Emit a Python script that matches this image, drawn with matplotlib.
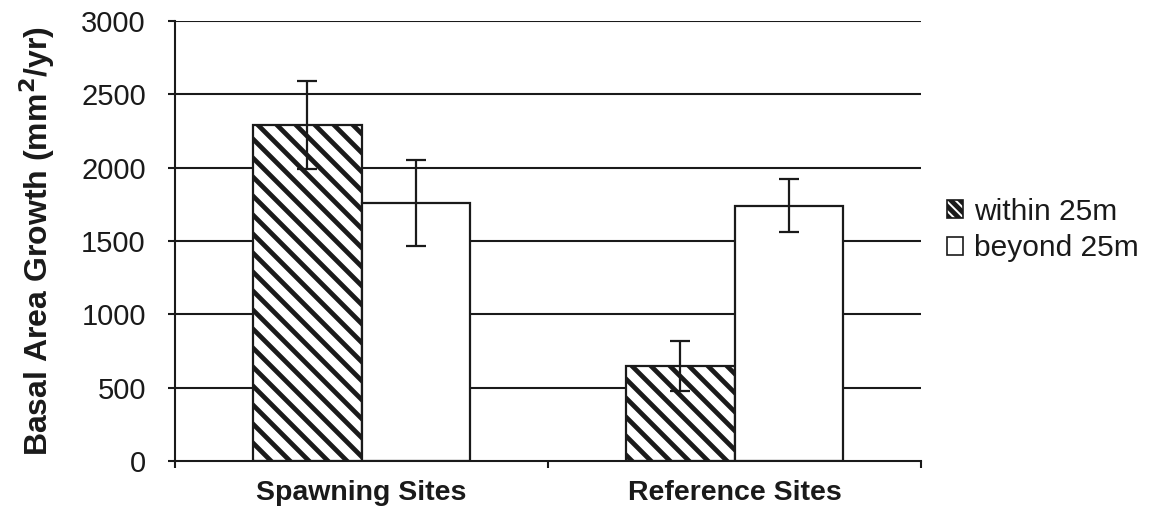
import matplotlib
matplotlib.use("Agg")
import matplotlib.pyplot as plt
import numpy as np
from matplotlib.patches import Patch

categories = ["Spawning Sites", "Reference Sites"]
series_names = ["within 25m", "beyond 25m"]
within_vals = [2290, 645]
within_err = [300, 170]
beyond_vals = [1760, 1740]
beyond_err = [295, 182]
yticks = [0, 500, 1000, 1500, 2000, 2500, 3000]

DPI = 114
S = 100 / DPI  # keep sizes as designed for 100 dpi

plt.rcParams['font.family'] = ['Liberation Sans', 'DejaVu Sans']
plt.rcParams['hatch.linewidth'] = 3.0
plt.rcParams['hatch.color'] = '#1a1a1a'

fig = plt.figure(figsize=(1166/DPI, 525/DPI), dpi=DPI)
ax = fig.add_axes([175/1166, 1-461/525, (921-175)/1166, (461-21)/525])

x = np.arange(len(categories))
w = 0.29
ax.set_axisbelow(True)
for yv in yticks[1:]:
    ax.axhline(yv, color='#1a1a1a', lw=1.5*S, zorder=0)

ax.bar(x - w/2, within_vals, w, color='white', edgecolor='#1a1a1a', lw=1.6*S,
       hatch='\\\\', zorder=2)
ax.bar(x + w/2, beyond_vals, w, color='white', edgecolor='#1a1a1a', lw=1.6*S, zorder=2)
ax.errorbar(x - w/2, within_vals, yerr=within_err, fmt='none', ecolor='#1a1a1a',
            elinewidth=1.6*S, capsize=7.5*S, capthick=1.6*S, zorder=3)
ax.errorbar(x + w/2, beyond_vals, yerr=beyond_err, fmt='none', ecolor='#1a1a1a',
            elinewidth=1.6*S, capsize=7.5*S, capthick=1.6*S, zorder=3)

ax.set_xlim(-0.5, 1.5)
ax.set_ylim(0, 3000)
ax.set_yticks(yticks)
ax.tick_params(axis='y', labelsize=21*S, length=5*S, width=1.5*S, color='#1a1a1a',
               labelcolor='#1a1a1a', pad=16*S, direction='out')
ax.set_xticks([-0.5, 0.5, 1.5])
ax.set_xticklabels([])
ax.set_xticks(x, minor=True)
ax.set_xticklabels(categories, minor=True, fontsize=20.5*S, fontweight='bold',
                   color='#1a1a1a')
ax.tick_params(axis='x', which='major', length=5*S, width=1.5*S, color='#1a1a1a',
               direction='out')
ax.tick_params(axis='x', which='minor', length=0, pad=14*S)

for s in ['top', 'right']:
    ax.spines[s].set_visible(False)
for s in ['left', 'bottom']:
    ax.spines[s].set_linewidth(1.5*S)
    ax.spines[s].set_color('#1a1a1a')

ax.set_ylabel("Basal Area Growth (mm$^\\mathbf{2}$/yr)", fontsize=23*S,
              fontweight='bold', color='#1a1a1a', labelpad=17*S)

handles = [Patch(facecolor='white', edgecolor='#1a1a1a', hatch='\\\\\\\\', lw=1.2*S),
           Patch(facecolor='white', edgecolor='#1a1a1a', lw=1.2*S)]
leg = fig.legend(handles, series_names, loc='center left',
                 bbox_to_anchor=(947/1166, 1-230/525), frameon=False,
                 fontsize=21.5*S, handlelength=0.55, handleheight=0.55,
                 handletextpad=0.35, labelspacing=0.3, borderpad=0,
                 borderaxespad=0)
for t in leg.get_texts():
    t.set_color('#1a1a1a')

fig.savefig("out.png", dpi=DPI)
